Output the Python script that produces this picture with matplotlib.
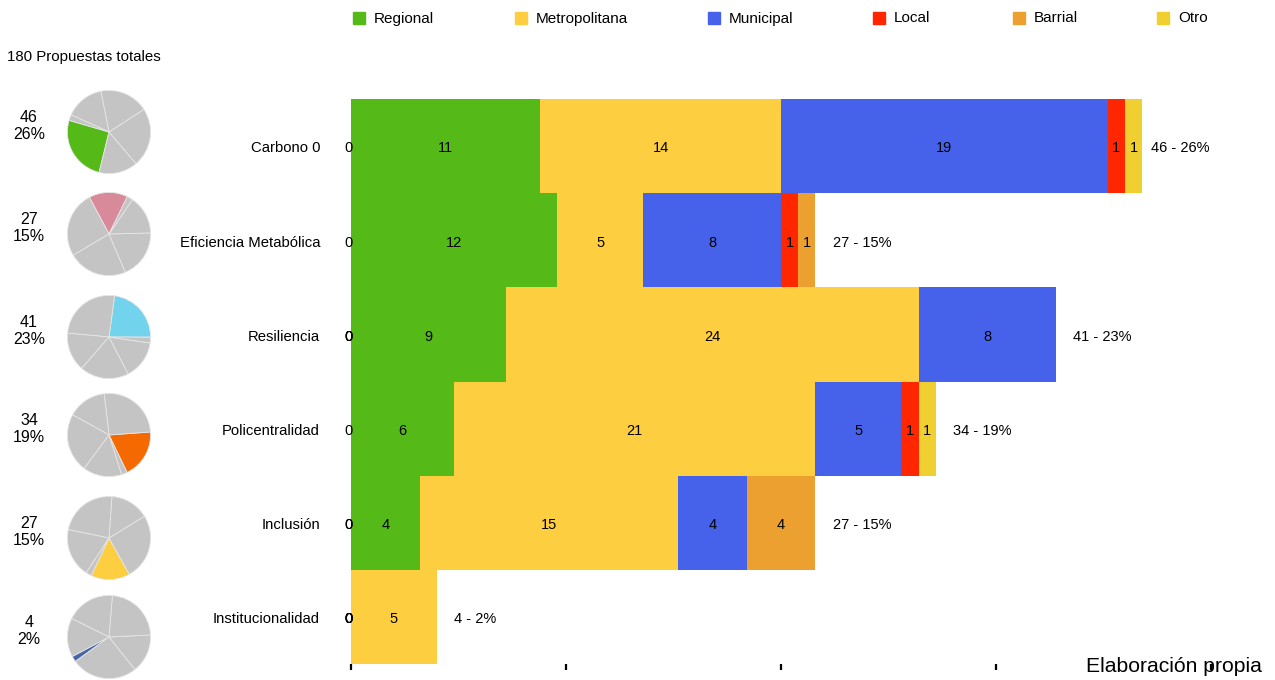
import matplotlib.pyplot as plt
from matplotlib.patches import Rectangle

plt.rcParams["font.family"] = ["Liberation Sans", "DejaVu Sans"]

# categories (top to bottom) and series
categories = ["Carbono 0", "Eficiencia Metabólica", "Resiliencia",
              "Policentralidad", "Inclusión", "Institucionalidad"]
series = ["Regional", "Metropolitana", "Municipal", "Local", "Barrial", "Otro"]
regional      = [11, 12, 9, 6, 4, 0]
metropolitana = [14, 5, 24, 21, 15, 5]
municipal     = [19, 8, 8, 5, 4, 0]
local         = [1, 1, 0, 1, 0, 0]
barrial       = [0, 1, 0, 0, 4, 0]
otro          = [1, 0, 0, 1, 0, 0]
totals        = [46, 27, 41, 34, 27, 4]
percents      = [26, 15, 23, 19, 15, 2]
total_text    = "180 Propuestas totales"

colors = ["#55B918", "#FDCE40", "#4762EA", "#FF2600", "#ECA030", "#F0D030"]
pie_colors = ["#55B918", "#D98A9A", "#72D3EC", "#F46A00", "#FDCE40", "#4567A8"]
pie_centers = [210, 91, 41, -30, -88, 212]   # angle of highlighted wedge

W, H = 1275, 680
fig = plt.figure(figsize=(W / 100, H / 100), dpi=100)

# main stacked bar axes, pixel box 351..1211 x 99..664
ax = fig.add_axes([351 / W, 1 - 664 / H, 860 / W, 565 / H])
data = [regional, metropolitana, municipal, local, barrial, otro]
n = len(categories)
ypos = [n - 1 - i for i in range(n)]
dy = -0.025
left = [0] * n
for s, vals in enumerate(data):
    ax.barh(ypos, vals, left=left, height=1.0, color=colors[s], linewidth=0)
    for i, v in enumerate(vals):
        if v > 0:
            ax.text(left[i] + v / 2, ypos[i] + dy, str(v), ha="center", va="center", fontsize=10.5)
        else:
            # zero segments get their label at the origin (overlapping ones look bold)
            ax.text(-0.15, ypos[i] + dy, "0", ha="center", va="center", fontsize=10.5)
    left = [l + v for l, v in zip(left, vals)]

for i in range(n):
    x = min(left[i] + 1, 46.5)
    ax.text(x, ypos[i] + dy, f"{totals[i]} - {percents[i]}%", ha="left", va="center", fontsize=10.5)
    ax.text(-1.8, ypos[i] + dy, categories[i], ha="right", va="center", fontsize=10.7)

ax.set_xlim(0, 50)
ax.set_ylim(-0.5, n - 0.5)
ax.set_xticks([0, 12.5, 25, 37.5, 50])
ax.set_xticklabels([])
ax.set_yticks([])
ax.tick_params(axis="x", direction="out", length=4, width=1.6, color="black")
for sp in ax.spines.values():
    sp.set_visible(False)

# legend along the top
leg_sq = [353, 515, 708, 873, 1013, 1157]
for s, name in enumerate(series):
    fig.patches.append(Rectangle((leg_sq[s] / W, 1 - 24 / H), 12 / W, 12 / H,
                                 transform=fig.transFigure, color=colors[s]))
    fig.text((leg_sq[s] + 21) / W, 1 - 18.5 / H, name, ha="left", va="center", fontsize=11)

fig.text(7 / W, 1 - 57 / H, total_text, ha="left", va="center", fontsize=10.8)

# small pies on the left
pie_y = [132, 234, 337, 435, 538, 637]
R = 42
for i in range(n):
    pax = fig.add_axes([(109 - R) / W, 1 - (pie_y[i] + R) / H, 2 * R / W, 2 * R / H])
    vals = [totals[i]] + [t for j, t in enumerate(totals) if j != i]
    cols = [pie_colors[i]] + ["#C4C4C4"] * (n - 1)
    frac = totals[i] / sum(totals)
    start = pie_centers[i] - frac * 180
    pax.pie(vals, colors=cols, startangle=start, counterclock=True,
            wedgeprops=dict(edgecolor="#E6E6E6", linewidth=0.6))
    pax.set_xlim(-1.01, 1.01)
    pax.set_ylim(-1.01, 1.01)
    pax.set_aspect("equal")
    fig.text(29 / W, 1 - (pie_y[i] - 6) / H, f"{totals[i]}\n{percents[i]}%",
             ha="center", va="center", fontsize=11.5, linespacing=1.1)

fig.text(1086 / W, 1 - 667 / H, "Elaboración propia", ha="left", va="center", fontsize=15.2)

fig.savefig("out.png", dpi=100)
